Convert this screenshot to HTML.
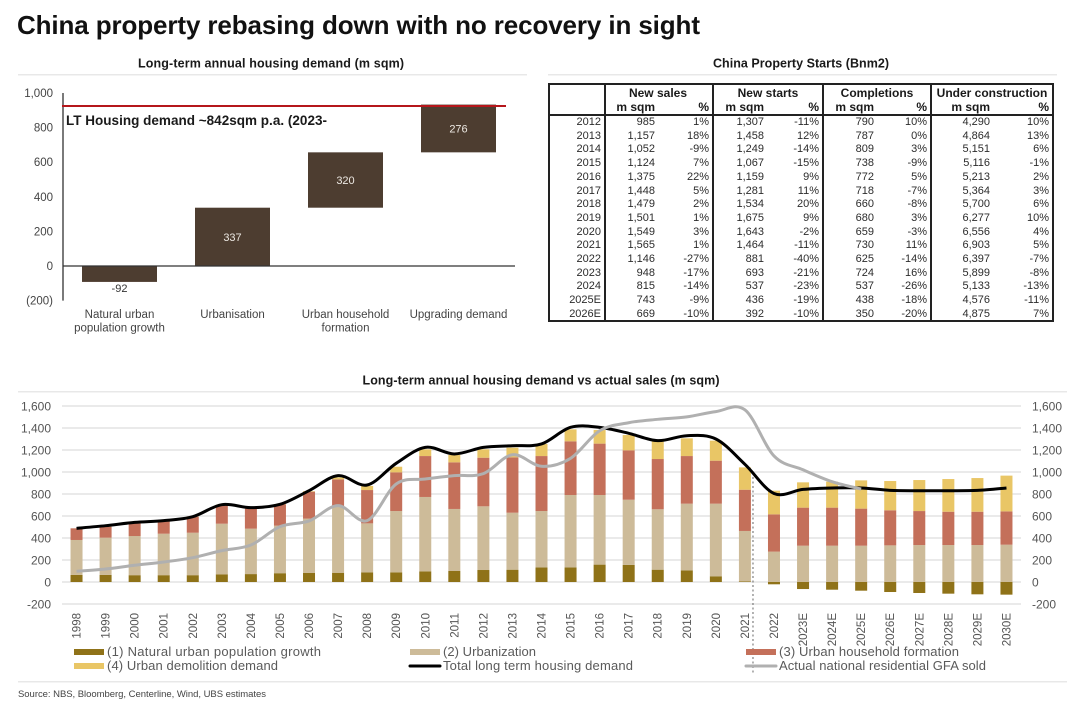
<!DOCTYPE html>
<html lang="en">
<head>
<meta charset="utf-8">
<title>China property rebasing down with no recovery in sight</title>
<style>
html,body{margin:0;padding:0;background:#fff;}
#page{position:relative;width:1080px;height:712px;overflow:hidden;background:#fff;font-family:"Liberation Sans",sans-serif;}
#art{position:absolute;left:0;top:0;}
text{font-family:"Liberation Sans",sans-serif;}
#property-table{position:absolute;left:548px;top:83px;width:506px;height:239px;box-sizing:border-box;border:2px solid #222;font-size:11px;color:#2c2c2c;}
.vr{position:absolute;top:0;bottom:0;width:2px;background:#222;}
.hd{position:absolute;top:1px;height:15px;line-height:15px;font-size:12px;font-weight:bold;color:#1a1a1a;text-align:center;}
.hs{position:absolute;top:15px;height:14px;line-height:15px;font-size:12px;font-weight:bold;color:#1a1a1a;text-align:right;}
#table-body{position:absolute;left:0;top:29px;width:502px;border-top:2px solid #222;}
.r{display:grid;grid-template-columns:54px 54px 54px 55px 55px 55px 53px 63px 59px;height:13.71px;line-height:13.71px;}
.r span{display:block;text-align:right;padding-right:3px;}
</style>
</head>
<body>
<div id="page">
<svg id="art" width="1080" height="712" viewBox="0 0 1080 712">
  <text x="17" y="34" font-size="26" font-weight="bold" fill="#111" textLength="683">China property rebasing down with no recovery in sight</text>

  <text x="271" y="67.5" font-size="12.5" font-weight="bold" fill="#1a1a1a" text-anchor="middle" textLength="266">Long-term annual housing demand (m sqm)</text>
  <rect x="18" y="74" width="509" height="1.5" fill="#e8e8e8"></rect>

  <text x="801" y="67.5" font-size="12.5" font-weight="bold" fill="#1a1a1a" text-anchor="middle" textLength="176">China Property Starts (Bnm2)</text>
  <rect x="548" y="74" width="509" height="1.5" fill="#e8e8e8"></rect>

  <g id="demand-plot"></g>

  <text x="541" y="384.5" font-size="12.5" font-weight="bold" fill="#1a1a1a" text-anchor="middle" textLength="357">Long-term annual housing demand vs actual sales (m sqm)</text>
  <rect x="18" y="391" width="1049" height="1.5" fill="#e8e8e8"></rect>

  <g id="sales-plot"></g>

  <g>
    <rect x="74" y="649" width="30" height="6" fill="#8f7218"></rect>
    <text x="107" y="656" font-size="13" fill="#5a5a5a" textLength="214">(1) Natural urban population growth</text>
    <rect x="410" y="649" width="30" height="6" fill="#cdbb99"></rect>
    <text x="443" y="656" font-size="13" fill="#5a5a5a" textLength="93">(2) Urbanization</text>
    <rect x="746" y="649" width="30" height="6" fill="#c4705a"></rect>
    <text x="779" y="656" font-size="13" fill="#5a5a5a" textLength="180">(3) Urban household formation</text>
    <rect x="74" y="663" width="30" height="6" fill="#e9c666"></rect>
    <text x="107" y="670" font-size="13" fill="#5a5a5a" textLength="171">(4) Urban demolition demand</text>
    <line x1="410" y1="666" x2="440" y2="666" stroke="#000" stroke-width="3" stroke-linecap="round"></line>
    <text x="443" y="670" font-size="13" fill="#5a5a5a" textLength="190">Total long term housing demand</text>
    <line x1="746" y1="666" x2="776" y2="666" stroke="#b0b0b0" stroke-width="3" stroke-linecap="round"></line>
    <text x="779" y="670" font-size="13" fill="#5a5a5a" textLength="207">Actual national residential GFA sold</text>
  </g>

  <rect x="18" y="681" width="1049" height="1.5" fill="#e8e8e8"></rect>
  <text x="18" y="697" font-size="9.5" fill="#444" textLength="248">Source: NBS, Bloomberg, Centerline, Wind, UBS estimates</text>
</svg>

<div id="property-table">
  <div class="vr" style="left:54px"></div>
  <div class="vr" style="left:162px"></div>
  <div class="vr" style="left:272px"></div>
  <div class="vr" style="left:380px"></div>

  <div class="hd" style="left:54px;width:108px">New sales</div>
  <div class="hd" style="left:164px;width:108px">New starts</div>
  <div class="hd" style="left:274px;width:106px">Completions</div>
  <div class="hd" style="left:382px;width:120px">Under construction</div>

  <div class="hs" style="left:54px;width:51px">m sqm</div>
  <div class="hs" style="left:108px;width:51px">%</div>
  <div class="hs" style="left:162px;width:52px">m sqm</div>
  <div class="hs" style="left:217px;width:52px">%</div>
  <div class="hs" style="left:272px;width:52px">m sqm</div>
  <div class="hs" style="left:327px;width:50px">%</div>
  <div class="hs" style="left:380px;width:60px">m sqm</div>
  <div class="hs" style="left:443px;width:56px">%</div>

  <div id="table-body">
    <div class="r"><span>2012</span><span>985</span><span>1%</span><span>1,307</span><span>-11%</span><span>790</span><span>10%</span><span>4,290</span><span>10%</span></div>
    <div class="r"><span>2013</span><span>1,157</span><span>18%</span><span>1,458</span><span>12%</span><span>787</span><span>0%</span><span>4,864</span><span>13%</span></div>
    <div class="r"><span>2014</span><span>1,052</span><span>-9%</span><span>1,249</span><span>-14%</span><span>809</span><span>3%</span><span>5,151</span><span>6%</span></div>
    <div class="r"><span>2015</span><span>1,124</span><span>7%</span><span>1,067</span><span>-15%</span><span>738</span><span>-9%</span><span>5,116</span><span>-1%</span></div>
    <div class="r"><span>2016</span><span>1,375</span><span>22%</span><span>1,159</span><span>9%</span><span>772</span><span>5%</span><span>5,213</span><span>2%</span></div>
    <div class="r"><span>2017</span><span>1,448</span><span>5%</span><span>1,281</span><span>11%</span><span>718</span><span>-7%</span><span>5,364</span><span>3%</span></div>
    <div class="r"><span>2018</span><span>1,479</span><span>2%</span><span>1,534</span><span>20%</span><span>660</span><span>-8%</span><span>5,700</span><span>6%</span></div>
    <div class="r"><span>2019</span><span>1,501</span><span>1%</span><span>1,675</span><span>9%</span><span>680</span><span>3%</span><span>6,277</span><span>10%</span></div>
    <div class="r"><span>2020</span><span>1,549</span><span>3%</span><span>1,643</span><span>-2%</span><span>659</span><span>-3%</span><span>6,556</span><span>4%</span></div>
    <div class="r"><span>2021</span><span>1,565</span><span>1%</span><span>1,464</span><span>-11%</span><span>730</span><span>11%</span><span>6,903</span><span>5%</span></div>
    <div class="r"><span>2022</span><span>1,146</span><span>-27%</span><span>881</span><span>-40%</span><span>625</span><span>-14%</span><span>6,397</span><span>-7%</span></div>
    <div class="r"><span>2023</span><span>948</span><span>-17%</span><span>693</span><span>-21%</span><span>724</span><span>16%</span><span>5,899</span><span>-8%</span></div>
    <div class="r"><span>2024</span><span>815</span><span>-14%</span><span>537</span><span>-23%</span><span>537</span><span>-26%</span><span>5,133</span><span>-13%</span></div>
    <div class="r"><span>2025E</span><span>743</span><span>-9%</span><span>436</span><span>-19%</span><span>438</span><span>-18%</span><span>4,576</span><span>-11%</span></div>
    <div class="r"><span>2026E</span><span>669</span><span>-10%</span><span>392</span><span>-10%</span><span>350</span><span>-20%</span><span>4,875</span><span>7%</span></div>
  </div>
</div>
</div>

<script>
// ---- Waterfall chart data ----
var demandCategories = [["Natural urban", "population growth"], ["Urbanisation"], ["Urban household", "formation"], ["Upgrading demand"]];
var demandValues = [-92, 337, 320, 276];
var demandTickValues = [1000, 800, 600, 400, 200, 0, -200];
var demandTickLabels = ["1,000", "800", "600", "400", "200", "0", "(200)"];
var demandReferenceLevel = 925;
var demandReferenceLabel = "LT Housing demand ~842sqm p.a. (2023-";

// ---- Demand vs sales chart data ----
var salesYears = ["1998","1999","2000","2001","2002","2003","2004","2005","2006","2007","2008","2009","2010","2011","2012","2013","2014","2015","2016","2017","2018","2019","2020","2021","2022","2023E","2024E","2025E","2026E","2027E","2028E","2029E","2030E"];
var naturalGrowth = [64,64,62,62,62,70,72,80,82,84,88,88,97,100,109,112,133,133,158,155,112,106,52,6,-21,-64,-70,-79,-91,-100,-106,-112,-115];
var urbanization = [318,339,356,377,386,460,413,432,494,601,445,557,676,564,579,518,512,658,633,593,549,606,660,458,276,330,330,330,333,336,336,336,339];
var householdFormation = [106,100,115,116,146,170,191,194,245,248,303,352,372,424,442,503,500,488,467,449,457,433,391,375,339,346,346,337,319,309,303,303,303];
var demolitionDemand = [0,4,3,3,3,3,3,3,5,18,37,51,61,67,76,88,110,109,124,139,161,161,182,203,215,230,236,257,266,282,297,306,325];
var totalDemand = [488,512,542,558,594,703,676,706,830,967,882,1079,1224,1164,1224,1239,1255,1406,1406,1352,1285,1330,1300,1070,805,842,855,855,833,830,830,833,855];
var actualSold = [97,118,152,182,221,285,336,503,555,694,558,891,936,967,985,1157,1052,1124,1375,1448,1479,1501,1549,1565,1146,1020,912,845];
var salesTickValues = [1600,1400,1200,1000,800,600,400,200,0,-200];
var salesTickLabels = ["1,600","1,400","1,200","1,000","800","600","400","200","0","-200"];

var SVGNS = 'http://www.w3.org/2000/svg';
function make(parent, tag, attrs, txt) {
  var el = document.createElementNS(SVGNS, tag);
  for (var k in attrs) { el.setAttribute(k, attrs[k]); }
  if (txt !== undefined) { el.textContent = txt; }
  parent.appendChild(el);
  return el;
}
function slug(s) { return String(s).toLowerCase().replace(/[^a-z0-9]+/g, '-'); }

// ---- Waterfall axis functions ----
var demandPlot = document.getElementById('demand-plot');
var demandLeft = 63, demandBand = 113, demandBarWidth = 75;
function demandY(v) { return 266 - v * 0.173; }
function demandX(i) { return demandLeft + demandBand * (i + 0.5); }

demandTickValues.forEach(function (v, i) {
  var t = make(demandPlot, 'text', {x: 53, y: demandY(v) + 4, 'font-size': 11.5, fill: '#444', 'text-anchor': 'end'}, demandTickLabels[i]);
  
  
});

var demandRunning = 0;
demandValues.forEach(function (v, i) {
  var base = v < 0 ? 0 : demandRunning;
  var end = base + v;
  if (v > 0) { demandRunning = end; }
  var top = Math.min(demandY(base), demandY(end));
  var h = Math.abs(demandY(base) - demandY(end));
  var bar = make(demandPlot, 'rect', {x: demandX(i) - demandBarWidth / 2, y: top, width: demandBarWidth, height: h, fill: '#4d3d30'});
  
  
  var labelY = v < 0 ? top + h + 10 : top + h / 2 + 4;
  var lab = make(demandPlot, 'text', {x: demandX(i), y: labelY, 'font-size': 11, fill: v < 0 ? '#333' : '#ece8e2', 'text-anchor': 'middle'}, String(v));
  
  
  demandCategories[i].forEach(function (line, j) {
    var c = make(demandPlot, 'text', {x: demandX(i), y: 318 + j * 13.5, 'font-size': 11.5, fill: '#444', 'text-anchor': 'middle'}, line);
    
    
  });
});

var demandYAxis = make(demandPlot, 'line', {x1: demandLeft, y1: demandY(1000), x2: demandLeft, y2: demandY(-200), stroke: '#333', 'stroke-width': 1.3});


var demandXAxis = make(demandPlot, 'line', {x1: demandLeft, y1: demandY(0), x2: demandLeft + demandBand * demandValues.length, y2: demandY(0), stroke: '#333', 'stroke-width': 1.3});



var refLine = make(demandPlot, 'line', {x1: 62, y1: demandY(demandReferenceLevel), x2: 506, y2: demandY(demandReferenceLevel), stroke: '#b5161b', 'stroke-width': 2});


var refLabel = make(demandPlot, 'text', {x: 66, y: 125, 'font-size': 13.5, 'font-weight': 'bold', fill: '#1a1a1a', textLength: 261}, demandReferenceLabel);



// ---- Demand vs sales axis functions ----
var salesPlot = document.getElementById('sales-plot');
var salesLeft = 62, salesRight = 1021, salesBarWidth = 12;
var salesBand = (salesRight - salesLeft) / salesYears.length;
function salesX(i) { return salesLeft + salesBand * (i + 0.5); }
function salesY(v) { return 582 - v * 0.11; }

salesTickValues.forEach(function (v, i) {
  var g = make(salesPlot, 'line', {x1: salesLeft, y1: salesY(v), x2: salesRight, y2: salesY(v), stroke: '#e3e3e3', 'stroke-width': 1.5});
  
  
  var l = make(salesPlot, 'text', {x: 51, y: salesY(v) + 4.5, 'font-size': 12, fill: '#555', 'text-anchor': 'end'}, salesTickLabels[i]);
  
  
  var r = make(salesPlot, 'text', {x: 1032, y: salesY(v) + 4.5, 'font-size': 12, fill: '#555'}, salesTickLabels[i]);
  
  
});

function stackSegment(i, from, to, fill, series) {
  var a = salesY(from), b = salesY(to);
  var seg = make(salesPlot, 'rect', {x: salesX(i) - salesBarWidth / 2, y: Math.min(a, b), width: salesBarWidth, height: Math.abs(a - b), fill: fill});
  
  
}

salesYears.forEach(function (year, i) {
  var nat = naturalGrowth[i];
  stackSegment(i, 0, nat, '#8f7218', 'natural');
  var base = nat > 0 ? nat : 0;
  stackSegment(i, base, base + urbanization[i], '#cdbb99', 'urbanization');
  base += urbanization[i];
  stackSegment(i, base, base + householdFormation[i], '#c4705a', 'household');
  base += householdFormation[i];
  stackSegment(i, base, base + demolitionDemand[i], '#e9c666', 'demolition');
  var cx = salesX(i);
  var t = make(salesPlot, 'text', {x: 0, y: 0, 'font-size': 11.5, fill: '#555', 'text-anchor': 'end', transform: 'translate(' + (cx + 4) + ',613) rotate(-90)'}, year);
  
  
});

var forecastX = salesX(24) - 21;
var divider = make(salesPlot, 'line', {x1: forecastX, y1: 477, x2: forecastX, y2: 675, stroke: '#666', 'stroke-width': 1, 'stroke-dasharray': '2 2.5'});



function smoothPath(values) {
  var pts = values.map(function (v, i) { return [salesX(i), salesY(v)]; });
  var d = 'M' + pts[0][0] + ' ' + pts[0][1];
  for (var i = 0; i < pts.length - 1; i++) {
    var p0 = pts[Math.max(i - 1, 0)], p1 = pts[i], p2 = pts[i + 1], p3 = pts[Math.min(i + 2, pts.length - 1)];
    d += ' C' + (p1[0] + (p2[0] - p0[0]) / 6) + ' ' + (p1[1] + (p2[1] - p0[1]) / 6) + ' ' +
         (p2[0] - (p3[0] - p1[0]) / 6) + ' ' + (p2[1] - (p3[1] - p1[1]) / 6) + ' ' + p2[0] + ' ' + p2[1];
  }
  return d;
}

var totalLine = make(salesPlot, 'path', {d: smoothPath(totalDemand), fill: 'none', stroke: '#000', 'stroke-width': 3, 'stroke-linejoin': 'round'});


var actualLine = make(salesPlot, 'path', {d: smoothPath(actualSold), fill: 'none', stroke: '#b0b0b0', 'stroke-width': 3, 'stroke-linejoin': 'round'});


</script>
</body>
</html>
